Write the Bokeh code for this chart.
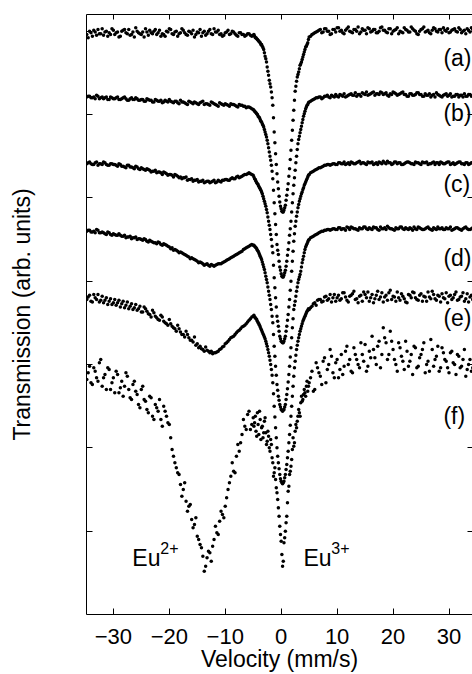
from bokeh.plotting import figure
from bokeh.models import LinearAxis, FixedTicker, CustomJSTickFormatter
from bokeh.core.properties import value
from bokeh.embed import file_html
from bokeh.resources import INLINE

# Velocity channels (mm/s), first pass
VELOCITY = [
    -34.5, -34.0, -33.5, -33.0, -32.5, -32.0, -31.5, -31.0, -30.5, -30.0,
    -29.5, -29.0, -28.5, -28.0, -27.5, -27.0, -26.5, -26.0, -25.5, -25.0,
    -24.5, -24.0, -23.5, -23.0, -22.5, -22.0, -21.5, -21.0, -20.5, -20.0,
    -19.5, -19.0, -18.5, -18.0, -17.5, -17.0, -16.5, -16.0, -15.5, -15.0,
    -14.5, -14.0, -13.5, -13.0, -12.5, -12.0, -11.5, -11.0, -10.5, -10.0,
    -9.5, -9.0, -8.5, -8.0, -7.5, -7.0, -6.5, -6.0, -5.5, -5.0,
    -4.75, -4.5, -4.25, -4.0, -3.75, -3.5, -3.25, -3.0, -2.75, -2.5,
    -2.25, -2.0, -1.75, -1.5, -1.25, -1.0, -0.75, -0.5, -0.25, 0.0,
    0.25, 0.5, 0.75, 1.0, 1.25, 1.5, 1.75, 2.0, 2.25, 2.5,
    2.75, 3.0, 3.25, 3.5, 3.75, 4.0, 4.25, 4.5, 4.75,
    5.0, 5.5, 6.0, 6.5, 7.0, 7.5, 8.0, 8.5, 9.0, 9.5,
    10.0, 10.5, 11.0, 11.5, 12.0, 12.5, 13.0, 13.5, 14.0, 14.5,
    15.0, 15.5, 16.0, 16.5, 17.0, 17.5, 18.0, 18.5, 19.0, 19.5,
    20.0, 20.5, 21.0, 21.5, 22.0, 22.5, 23.0, 23.5, 24.0, 24.5,
    25.0, 25.5, 26.0, 26.5, 27.0, 27.5, 28.0, 28.5, 29.0, 29.5,
    30.0, 30.5, 31.0, 31.5, 32.0, 32.5, 33.0, 33.5, 34.0, 34.5,
]

# Velocity channels (mm/s), interleaved second pass
VELOCITY_MID = [
    -34.75, -34.25, -33.75, -33.25, -32.75, -32.25, -31.75, -31.25, -30.75, -30.25,
    -29.75, -29.25, -28.75, -28.25, -27.75, -27.25, -26.75, -26.25, -25.75, -25.25,
    -24.75, -24.25, -23.75, -23.25, -22.75, -22.25, -21.75, -21.25, -20.75, -20.25,
    -19.75, -19.25, -18.75, -18.25, -17.75, -17.25, -16.75, -16.25, -15.75, -15.25,
    -14.75, -14.25, -13.75, -13.25, -12.75, -12.25, -11.75, -11.25, -10.75, -10.25,
    -9.75, -9.25, -8.75, -8.25, -7.75, -7.25, -6.75, -6.25, -5.75, -5.25,
    -4.875, -4.625, -4.375, -4.125, -3.875, -3.625, -3.375, -3.125, -2.875, -2.625,
    -2.375, -2.125, -1.875, -1.625, -1.375, -1.125, -0.875, -0.625, -0.375, -0.125,
    0.125, 0.375, 0.625, 0.875, 1.125, 1.375, 1.625, 1.875, 2.125, 2.375,
    2.625, 2.875, 3.125, 3.375, 3.625, 3.875, 4.125, 4.375, 4.625, 4.875,
    5.25, 5.75, 6.25, 6.75, 7.25, 7.75, 8.25, 8.75, 9.25, 9.75,
    10.25, 10.75, 11.25, 11.75, 12.25, 12.75, 13.25, 13.75, 14.25, 14.75,
    15.25, 15.75, 16.25, 16.75, 17.25, 17.75, 18.25, 18.75, 19.25, 19.75,
    20.25, 20.75, 21.25, 21.75, 22.25, 22.75, 23.25, 23.75, 24.25, 24.75,
    25.25, 25.75, 26.25, 26.75, 27.25, 27.75, 28.25, 28.75, 29.25, 29.75,
    30.25, 30.75, 31.25, 31.75, 32.25, 32.75, 33.25, 33.75, 34.25,
]

# Transmission (arb. units, stacked spectra)
TRANS_A = [
    692, 698, 701, 695, 697, 703, 699, 694, 696, 701,
    698, 693, 700, 702, 697, 695, 699, 704, 698, 696,
    693, 699, 701, 697, 702, 698, 694, 696, 700, 703,
    697, 699, 694, 698, 701, 696, 700, 697, 693, 699,
    702, 698, 695, 700, 697, 703, 699, 696, 694, 698,
    701, 697, 699, 695, 698, 696, 694, 697, 695, 695,
] + [
    694, 692, 690, 688, 686, 684, 680, 674, 667, 657,
    647, 637, 627, 611, 579, 553, 529, 511, 495, 487,
    483, 485, 491, 503, 517, 535, 557, 581, 605, 628,
    640, 648, 655, 661, 666, 672, 678, 682, 686,
] + [
    693, 696, 698, 700, 702, 699, 703, 700, 697, 702,
    704, 700, 698, 701, 705, 699, 702, 700, 697, 703,
    701, 704, 699, 702, 698, 700, 705, 701, 698, 703,
    700, 702, 697, 699, 704, 701, 699, 703, 700, 696,
    702, 705, 700, 698, 701, 703, 699, 702, 704, 700,
    698, 701, 703, 699, 702, 700, 697, 701, 704, 700,
]
TRANS_A_MID = [
    696, 700, 694, 699, 702, 697, 695, 700, 698, 703,
    696, 699, 694, 701, 698, 702, 696, 693, 700, 697,
    699, 703, 695, 698, 700, 696, 701, 697, 694, 699,
    702, 696, 700, 697, 703, 698, 695, 699, 701, 696,
    698, 694, 700, 697, 702, 696, 699, 701, 697, 695,
    699, 696, 700, 697, 694, 698, 696, 695, 697, 694,
] + [
    696, 692, 691, 689, 687, 684, 682, 678, 670, 663,
    652, 641, 633, 620, 596, 566, 540, 519, 502, 490,
    484, 483, 488, 497, 510, 526, 546, 569, 593, 617,
    634, 645, 651, 659, 663, 669, 675, 681, 684, 690,
] + [
    694, 697, 699, 701, 698, 703, 700, 696, 702, 699,
    704, 701, 697, 703, 700, 698, 702, 705, 699, 701,
    697, 703, 700, 702, 698, 704, 701, 699, 703, 697,
    701, 704, 700, 698, 702, 699, 705, 701, 697, 700,
    703, 699, 701, 697, 704, 700, 702, 698, 701, 703,
    699, 702, 700, 704, 698, 701, 703, 699, 702,
]

TRANS_B = [
    622, 620, 621, 623, 619, 621, 620, 618, 621, 619,
    620, 618, 619, 621, 617, 619, 618, 620, 617, 618,
    616, 619, 617, 615, 618, 616, 617, 615, 616, 618,
    615, 616, 614, 617, 615, 613, 616, 614, 615, 613,
    614, 616, 613, 612, 615, 613, 611, 614, 612, 613,
    611, 613, 612, 610, 612, 611, 610, 609, 608, 606,
] + [
    604, 602, 600, 597, 594, 591, 587, 582, 576, 569,
    560, 550, 539, 523, 494, 468, 444, 432, 417, 409,
    405, 407, 413, 424, 438, 455, 472, 494, 515, 533,
    550, 565, 574, 582, 590, 598, 604, 609, 612,
] + [
    615, 617, 619, 620, 621, 620, 622, 621, 623, 621,
    622, 624, 622, 621, 623, 625, 623, 622, 624, 626,
    624, 623, 625, 627, 625, 624, 626, 625, 623, 625,
    627, 625, 624, 626, 624, 622, 625, 623, 624, 626,
    624, 622, 623, 625, 623, 621, 624, 622, 623, 625,
    623, 621, 622, 624, 623, 621, 622, 624, 622, 623,
]
TRANS_B_MID = [
    621, 622, 620, 619, 622, 620, 619, 621, 618, 620,
    619, 621, 618, 620, 619, 617, 620, 618, 619, 617,
    618, 616, 618, 617, 615, 617, 616, 614, 617, 615,
    616, 614, 616, 613, 615, 614, 612, 615, 613, 614,
    612, 615, 612, 613, 611, 614, 612, 610, 613, 611,
    612, 610, 612, 611, 609, 611, 610, 608, 609, 607,
] + [
    605, 603, 601, 598, 596, 592, 589, 585, 579, 573,
    565, 555, 545, 532, 509, 481, 456, 437, 424, 413,
    406, 405, 410, 418, 431, 446, 463, 483, 505, 524,
    542, 558, 570, 578, 586, 594, 601, 607, 611, 614,
] + [
    616, 618, 620, 621, 619, 622, 623, 620, 622, 624,
    621, 623, 625, 622, 624, 623, 626, 624, 622, 625,
    627, 624, 626, 623, 625, 627, 624, 626, 622, 624,
    626, 623, 625, 627, 624, 622, 625, 623, 626, 624,
    622, 625, 623, 621, 624, 626, 623, 621, 624, 622,
    625, 622, 624, 621, 623, 625, 622, 624, 623,
]

TRANS_C = [
    542, 541, 540, 543, 541, 540, 542, 539, 541, 540,
    539, 541, 538, 537, 539, 537, 536, 538, 535, 536,
    534, 535, 533, 532, 533, 531, 530, 531, 529, 528,
    527, 528, 526, 525, 524, 525, 522, 523, 521, 522,
    520, 521, 519, 520, 519, 521, 519, 520, 521, 522,
    521, 523, 523, 525, 524, 526, 528, 529, 529, 527,
] + [
    523, 520, 517, 514, 511, 507, 502, 496, 490, 482,
    472, 462, 450, 434, 404, 380, 358, 346, 334, 328,
    326, 328, 334, 346, 360, 378, 400, 424, 448, 466,
    478, 488, 496, 502, 507, 512, 517, 521, 525,
] + [
    528, 531, 533, 535, 536, 538, 539, 540, 540, 541,
    540, 542, 541, 540, 542, 543, 541, 542, 544, 542,
    541, 543, 542, 540, 542, 543, 541, 542, 544, 542,
    541, 543, 542, 540, 541, 543, 542, 541, 543, 542,
    540, 542, 543, 541, 542, 540, 542, 543, 541, 542,
    543, 541, 540, 542, 543, 541, 542, 540, 542, 541,
]
TRANS_C_MID = [
    541, 543, 540, 542, 539, 541, 543, 540, 539, 541,
    540, 538, 540, 538, 536, 539, 537, 535, 537, 534,
    535, 533, 534, 531, 532, 530, 531, 528, 530, 527,
    528, 525, 527, 524, 523, 524, 521, 522, 520, 521,
    519, 520, 518, 520, 518, 520, 518, 521, 519, 521,
    522, 521, 524, 523, 526, 525, 527, 528, 530, 528,
] + [
    525, 522, 518, 516, 512, 509, 505, 499, 493, 486,
    477, 467, 456, 442, 419, 392, 369, 352, 340, 331,
    327, 326, 331, 340, 353, 369, 389, 412, 436, 457,
    472, 483, 492, 499, 505, 510, 515, 519, 523, 527,
] + [
    530, 532, 534, 536, 537, 539, 540, 539, 541, 540,
    542, 541, 543, 541, 540, 542, 541, 543, 541, 542,
    540, 542, 543, 541, 540, 542, 544, 541, 542, 540,
    543, 541, 542, 540, 542, 543, 541, 540, 542, 541,
    543, 542, 540, 541, 543, 542, 540, 542, 541, 543,
    540, 542, 541, 543, 541, 540, 542, 541, 542,
]

TRANS_D = [
    461, 459, 460, 462, 458, 459, 457, 459, 456, 457,
    455, 457, 454, 455, 453, 454, 452, 453, 451, 450,
    451, 448, 449, 447, 446, 447, 444, 445, 443, 441,
    440, 438, 436, 435, 433, 431, 429, 428, 426, 424,
    423, 421, 420, 419, 420, 418, 420, 421, 422, 424,
    426, 428, 430, 432, 434, 436, 439, 441, 443, 443,
] + [
    442, 440, 437, 434, 430, 426, 420, 414, 406, 398,
    388, 378, 366, 350, 322, 298, 276, 262, 252, 246,
    244, 246, 252, 264, 279, 298, 320, 344, 366, 376,
    388, 398, 405, 412, 422, 430, 438, 443, 447,
] + [
    450, 453, 455, 457, 459, 460, 461, 462, 462, 463,
    462, 464, 463, 461, 464, 465, 463, 462, 464, 463,
    465, 462, 463, 465, 464, 461, 463, 464, 466, 463,
    462, 464, 463, 465, 462, 463, 464, 461, 463, 465,
    463, 462, 464, 463, 461, 463, 465, 463, 462, 464,
    463, 461, 463, 464, 462, 463, 465, 462, 463, 464,
]
TRANS_D_MID = [
    460, 461, 459, 458, 461, 458, 458, 456, 458, 455,
    456, 455, 455, 454, 452, 453, 451, 452, 450, 451,
    449, 450, 447, 448, 446, 445, 446, 443, 444, 442,
    439, 437, 437, 434, 434, 432, 430, 427, 427, 425,
    422, 422, 419, 421, 418, 419, 419, 421, 421, 423,
    425, 427, 429, 431, 433, 435, 438, 440, 442, 444,
] + [
    443, 441, 439, 436, 432, 428, 423, 417, 410, 402,
    393, 383, 372, 358, 336, 310, 287, 269, 257, 249,
    245, 245, 249, 258, 271, 288, 309, 332, 355, 371,
    382, 393, 402, 408, 417, 426, 434, 441, 445, 449,
] + [
    452, 454, 456, 458, 460, 461, 462, 461, 463, 462,
    464, 462, 463, 465, 462, 464, 463, 461, 463, 465,
    463, 464, 462, 464, 462, 465, 463, 462, 464, 463,
    461, 463, 465, 463, 464, 462, 463, 465, 462, 464,
    462, 463, 465, 462, 464, 462, 463, 464, 462, 463,
    465, 462, 464, 463, 461, 464, 463, 462, 464,
]

TRANS_E = [
    381, 376, 384, 378, 375, 382, 377, 372, 379, 374,
    371, 377, 373, 368, 375, 370, 366, 372, 367, 363,
    369, 364, 360, 365, 358, 354, 359, 352, 349, 354,
    346, 343, 347, 339, 336, 340, 332, 329, 333, 325,
    322, 318, 321, 316, 316, 314, 315, 318, 321, 325,
    328, 332, 334, 338, 341, 345, 347, 351, 355, 358,
] + [
    357, 355, 352, 349, 345, 341, 337, 333, 328, 322,
    314, 305, 294, 278, 250, 224, 200, 182, 168, 160,
    157, 160, 168, 180, 196, 216, 238, 262, 286, 304,
    318, 328, 336, 343, 349, 354, 358, 362, 365,
] + [
    366, 370, 374, 377, 378, 376, 382, 379, 375, 384,
    380, 377, 386, 381, 375, 383, 388, 379, 382, 376,
    384, 387, 380, 374, 383, 378, 386, 381, 377, 389,
    382, 376, 380, 385, 379, 374, 383, 387, 380, 377,
    385, 382, 376, 381, 388, 379, 383, 375, 380, 386,
    382, 378, 384, 377, 381, 386, 379, 375, 383, 380,
]
TRANS_E_MID = [
    378, 383, 375, 380, 384, 377, 374, 380, 376, 372,
    378, 374, 369, 376, 371, 367, 373, 368, 365, 370,
    363, 367, 361, 357, 362, 356, 353, 357, 350, 347,
    349, 344, 340, 343, 336, 333, 336, 329, 327, 323,
    320, 319, 316, 317, 314, 313, 314, 316, 319, 322,
    326, 330, 333, 336, 340, 343, 346, 349, 353, 357,
] + [
    359, 356, 354, 350, 347, 343, 339, 335, 331, 325,
    318, 310, 300, 287, 265, 237, 212, 190, 175, 163,
    158, 158, 164, 174, 188, 206, 227, 250, 274, 296,
    311, 323, 332, 340, 346, 352, 356, 360, 364, 367,
] + [
    368, 373, 371, 378, 375, 381, 377, 384, 380, 376,
    383, 379, 386, 377, 382, 385, 378, 374, 383, 387,
    380, 376, 384, 379, 388, 381, 375, 383, 386, 378,
    381, 387, 377, 382, 375, 384, 380, 386, 378, 383,
    376, 381, 387, 379, 384, 377, 382, 385, 379, 374,
    383, 380, 387, 378, 382, 376, 385, 381, 378,
]

TRANS_F = [
    290, 278, 296, 284, 302, 274, 288, 296, 270, 284,
    292, 266, 280, 274, 286, 260, 276, 268, 252, 270,
    258, 246, 262, 238, 252, 244, 234, 250, 238, 228,
    198, 182, 170, 156, 150, 136, 130, 114, 108, 94,
    84, 70, 58, 76, 64, 90, 98, 112, 120, 130,
    150, 166, 172, 190, 196, 216, 226, 240, 222, 236,
] + [
    230, 220, 242, 216, 234, 224, 212, 232, 218, 208,
    214, 196, 204, 182, 170, 162, 146, 128, 106, 88,
    58, 86, 100, 118, 148, 168, 178, 198, 202, 220,
    224, 238, 242, 254, 256, 264, 266, 274, 268,
] + [
    278, 292, 270, 296, 286, 304, 278, 300, 310, 284,
    306, 294, 288, 316, 300, 292, 320, 306, 296, 312,
    324, 298, 308, 318, 300, 328, 312, 332, 306, 340,
    318, 300, 326, 310, 294, 316, 304, 288, 320, 298,
    312, 326, 300, 292, 318, 306, 322, 296, 314, 304,
    290, 316, 300, 312, 296, 306, 286, 300, 292, 304,
]
TRANS_F_MID = [
    282, 298, 276, 292, 280, 306, 284, 270, 294, 278,
    266, 288, 272, 262, 290, 270, 258, 280, 264, 248,
    274, 256, 242, 260, 234, 248, 258, 226, 244, 230,
    212, 190, 176, 168, 142, 158, 124, 132, 104, 116,
    90, 80, 52, 68, 74, 82, 106, 96, 124, 116,
    140, 158, 182, 170, 204, 206, 234, 222, 244, 228,
] + [
    226, 238, 214, 228, 244, 210, 226, 218, 236, 204,
    220, 200, 210, 188, 166, 176, 152, 138, 118, 96,
    72, 64, 92, 110, 134, 154, 172, 186, 212, 206,
    228, 232, 246, 238, 262, 258, 270, 262, 280, 274,
] + [
    284, 268, 302, 290, 276, 308, 294, 318, 290, 302,
    284, 312, 298, 322, 306, 290, 312, 300, 326, 304,
    292, 316, 334, 308, 322, 296, 344, 326, 312, 328,
    306, 292, 320, 304, 328, 298, 312, 322, 296, 308,
    318, 290, 304, 330, 298, 310, 292, 320, 306, 296,
    314, 302, 288, 310, 298, 318, 294, 306, 296,
]

SPECTRA = [TRANS_A, TRANS_B, TRANS_C, TRANS_D, TRANS_E, TRANS_F]
SPECTRA_MID = [TRANS_A_MID, TRANS_B_MID, TRANS_C_MID, TRANS_D_MID, TRANS_E_MID, TRANS_F_MID]
for s in SPECTRA:
    if len(s) != len(VELOCITY):
        raise ValueError("length mismatch %d vs %d" % (len(s), len(VELOCITY)))
for s in SPECTRA_MID:
    if len(s) != len(VELOCITY_MID):
        raise ValueError("mid length mismatch %d vs %d" % (len(s), len(VELOCITY_MID)))

SAMPLE_LABELS = ["(a)", "(b)", "(c)", "(d)", "(e)", "(f)"]
SAMPLE_LABEL_Y = [668, 602, 517, 428, 356, 238]
SAMPLE_LABEL_X = 29.0

X_TICKS = [-30, -20, -10, 0, 10, 20, 30]
Y_TICKS = [100, 200, 300, 400, 500, 600, 700]

FONT = "Liberation Sans"

p = figure(width=472, height=674, x_range=(-34.8, 34.2), y_range=(0, 720),
           output_backend="svg", toolbar_location=None,
           min_border_left=86, min_border_right=0, min_border_top=14,
           min_border_bottom=60, background_fill_color="white",
           border_fill_color="white")
p.outline_line_color = None
p.xgrid.visible = False
p.ygrid.visible = False

empty = CustomJSTickFormatter(code="return ''")

bottom = p.below[0]
bottom.ticker = FixedTicker(ticks=X_TICKS)
bottom.major_tick_in = 6
bottom.major_tick_out = 0
bottom.minor_tick_in = 0
bottom.minor_tick_out = 0
bottom.major_label_standoff = 14
bottom.major_label_text_font = FONT
bottom.major_label_text_font_size = "22px"
bottom.major_label_text_color = "black"
bottom.axis_label = "Velocity (mm/s)"
bottom.axis_label_text_font = FONT
bottom.axis_label_text_font_size = "23px"
bottom.axis_label_text_font_style = "normal"
bottom.axis_label_text_color = "black"
bottom.axis_label_standoff = -1
bottom.axis_line_color = "black"
bottom.major_tick_line_color = "black"

left = p.left[0]
left.ticker = FixedTicker(ticks=Y_TICKS)
left.formatter = empty
left.major_tick_in = 6
left.major_tick_out = 0
left.minor_tick_in = 0
left.minor_tick_out = 0
left.major_label_standoff = 0
left.major_label_text_font_size = "0px"
left.axis_label = "Transmission (arb. units)"
left.axis_label_text_font = FONT
left.axis_label_text_font_size = "23px"
left.axis_label_text_font_style = "normal"
left.axis_label_text_color = "black"
left.axis_label_standoff = 52
left.axis_line_color = "black"

top = LinearAxis(ticker=FixedTicker(ticks=X_TICKS), formatter=empty,
                 major_tick_in=5, major_tick_out=0, minor_tick_in=0,
                 minor_tick_out=0, major_label_standoff=0,
                 major_label_text_font_size="0px", axis_line_color="black")
p.add_layout(top, "above")

right = LinearAxis(ticker=FixedTicker(ticks=Y_TICKS), formatter=empty,
                   major_tick_in=5, major_tick_out=0, minor_tick_in=0,
                   minor_tick_out=0, major_label_standoff=0,
                   major_label_text_font_size="0px", axis_line_color=None)
p.add_layout(right, "right")

for s, s_mid in zip(SPECTRA, SPECTRA_MID):
    p.scatter(VELOCITY + VELOCITY_MID, s + s_mid, size=3.5, marker="circle",
              fill_color="black", line_color="black", line_width=0)

p.text(x=[SAMPLE_LABEL_X] * len(SAMPLE_LABELS), y=SAMPLE_LABEL_Y, text=SAMPLE_LABELS,
       text_font=value(FONT), text_font_size="23px", text_align="left",
       text_baseline="middle", text_color="black")

# Eu2+ / Eu3+ annotations
p.text(x=[-26.6, 3.99], y=[68, 68], text=["Eu", "Eu"],
       text_font=value(FONT), text_font_size="23px", text_align="left",
       text_baseline="alphabetic", text_color="black")
p.text(x=[-21.6, 8.97], y=[80, 80], text=["2+", "3+"],
       text_font=value(FONT), text_font_size="16px", text_align="left",
       text_baseline="alphabetic", text_color="black")

open("out.html", "w").write(file_html(p, INLINE))
